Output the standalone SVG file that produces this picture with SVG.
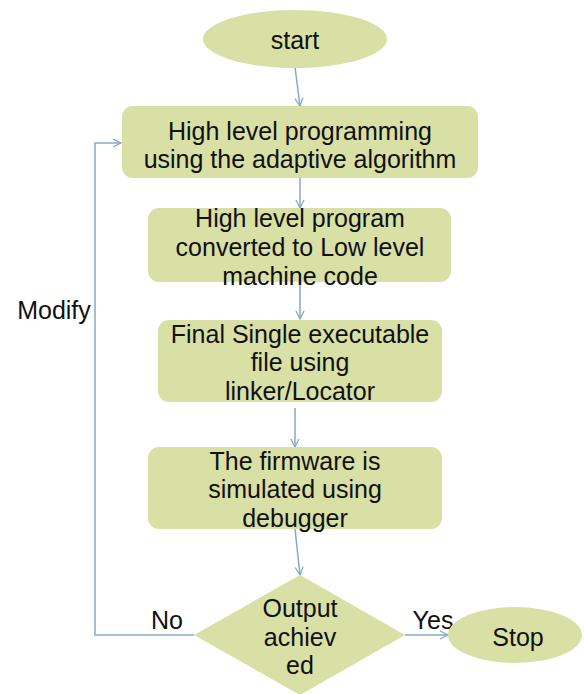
<svg xmlns="http://www.w3.org/2000/svg" width="584" height="694" viewBox="0 0 584 694">
<style>
.n{fill:#d8e0a6;stroke:none}
.t{font-family:"Liberation Sans",Arial,sans-serif;font-size:25px;fill:#111;text-anchor:middle;dominant-baseline:central}
.c{fill:none;stroke:#85a9c8;stroke-width:1.5}
</style>
<defs>
<marker id="a" viewBox="0 0 10 10" refX="9" refY="5" markerWidth="10" markerHeight="10" markerUnits="userSpaceOnUse" orient="auto">
<path d="M1,1 L9,5 L1,9" fill="none" stroke="#85a9c8" stroke-width="1.3"/>
</marker>
</defs>
<rect width="584" height="694" fill="#fff"/>
<g id="connectors">
<path class="c" d="M295,67 L300,106" marker-end="url(#a)"/>
<path class="c" d="M300,178 L300,208" marker-end="url(#a)"/>
<path class="c" d="M300,282 L300,319" marker-end="url(#a)"/>
<path class="c" d="M295,408 L295,447" marker-end="url(#a)"/>
<path class="c" d="M295,529 L300,575" marker-end="url(#a)"/>
<path class="c" d="M194,635 L95,635 L95,143 L121,143" marker-end="url(#a)"/>
<path class="c" d="M405,635 L448,635" marker-end="url(#a)"/>
<text class="t" x="54" y="310">Modify</text>
<text class="t" x="167" y="620">No</text>
<text class="t" x="433" y="620">Yes</text>
</g>
<g id="start">
<ellipse class="n" cx="295" cy="39" rx="92" ry="29"/>
<text class="t" x="295" y="40">start</text>
</g>
<g id="box1">
<rect class="n" x="122" y="106" width="356" height="72" rx="11"/>
<text class="t" x="300" y="131">High level programming</text>
<text class="t" x="300" y="159">using the adaptive algorithm</text>
</g>
<g id="box2">
<rect class="n" x="148" y="208" width="303" height="74" rx="11"/>
<text class="t" x="300" y="218">High level program</text>
<text class="t" x="300" y="247">converted to Low level</text>
<text class="t" x="300" y="276">machine code</text>
</g>
<g id="box3">
<rect class="n" x="158" y="320" width="284" height="82" rx="11"/>
<text class="t" x="300" y="334">Final Single executable</text>
<text class="t" x="300" y="362">file using</text>
<text class="t" x="300" y="391">linker/Locator</text>
</g>
<g id="box4">
<rect class="n" x="148" y="447" width="294" height="82" rx="11"/>
<text class="t" x="295" y="461">The firmware is</text>
<text class="t" x="295" y="489">simulated using</text>
<text class="t" x="295" y="518">debugger</text>
</g>
<g id="decision">
<polygon class="n" points="300,575 405,635 300,695 194,635"/>
<text class="t" x="300" y="608">Output</text>
<text class="t" x="300" y="637">achiev</text>
<text class="t" x="300" y="665">ed</text>
</g>
<g id="stop">
<ellipse class="n" cx="515" cy="635" rx="67" ry="28"/>
<text class="t" x="518" y="637">Stop</text>
</g>
</svg>
